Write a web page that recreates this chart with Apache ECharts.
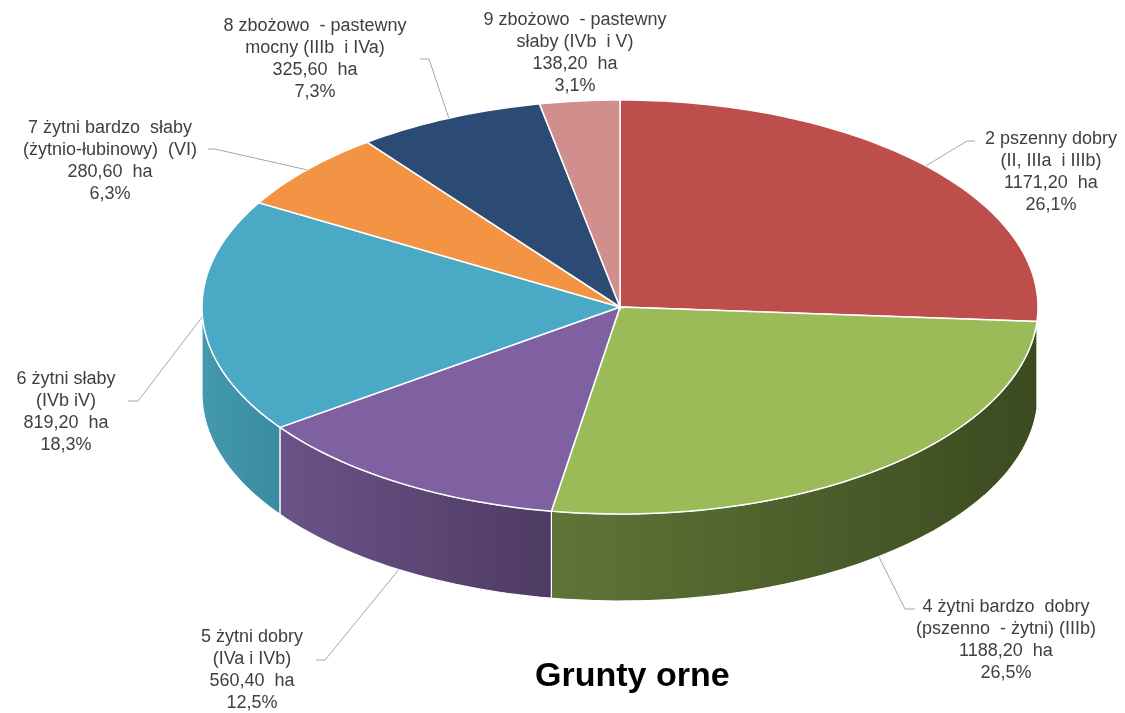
<!DOCTYPE html>
<html>
<head>
<meta charset="utf-8">
<title>Grunty orne</title>
<script src="https://cdn.jsdelivr.net/npm/echarts@6/dist/echarts.min.js"></script>
<style>
  html, body { margin: 0; padding: 0; background: #fff; }
  #chart { width: 1125px; height: 713px; }
</style>
</head>
<body>
<div id="chart"></div>
<script>
// klasy gruntów ornych, zgodnie z ruchem wskazówek zegara od godz. 12
const categories = [
  '2 pszenny dobry\n(II, IIIa  i IIIb)',
  '4 żytni bardzo  dobry\n(pszenno  - żytni) (IIIb)',
  '5 żytni dobry\n(IVa i IVb)',
  '6 żytni słaby\n(IVb iV)',
  '7 żytni bardzo  słaby\n(żytnio-łubinowy)  (VI)',
  '8 zbożowo  - pastewny\nmocny (IIIb  i IVa)',
  '9 zbożowo  - pastewny\nsłaby (IVb  i V)'
];
const areas = [1171.2, 1188.2, 560.4, 819.2, 280.6, 325.6, 138.2];
const chartTitle = 'Grunty orne';

const topColors = ['#BE4E4B', '#9BBB59', '#7F60A0', '#4AA9C4', '#F29444', '#2B4B74', '#D08E8C'];
const sideColors = [
  ['#8E3A38', '#8E3A38'],
  ['#5E7537', '#3C4A20'],
  ['#6B5388', '#4E3B63'],
  ['#4499AE', '#3A8B9F'],
  ['#B86E30', '#B86E30'],
  ['#1F3756', '#1F3756'],
  ['#9C6A69', '#9C6A69']
];

// położenie "3D" tortu i etykiet
const pie = { cx: 620, cy: 307, rx: 418, ry: 207, depth: 87 };
const labelLayout = [
  { x: 1051, y: 172, elbow: [967, 141], end: [975, 141] },
  { x: 1006, y: 640, elbow: [905, 609], end: [915, 609] },
  { x: 252, y: 670, elbow: [325, 660], end: [316, 660] },
  { x: 66, y: 412, elbow: [138, 401], end: [128, 401] },
  { x: 110, y: 161, elbow: [215, 149], end: [208, 149] },
  { x: 315, y: 59, elbow: [429, 59], end: [420, 59] },
  { x: 575, y: 53, elbow: null, end: null }
];

const total = areas.reduce((a, b) => a + b, 0);
const startAngles = [];
areas.reduce((acc, v) => { startAngles.push(acc); return acc + v / total * 360; }, 0);

function pt(deg, dy) {
  const r = deg * Math.PI / 180;
  return [pie.cx + pie.rx * Math.sin(r), pie.cy - pie.ry * Math.cos(r) + (dy || 0)];
}
function arc(a0, a1, dy) {
  const n = Math.max(2, Math.ceil((a1 - a0) / 1.5));
  const pts = [];
  for (let i = 0; i <= n; i++) pts.push(pt(a0 + (a1 - a0) * i / n, dy));
  return pts;
}
function fmt(v, d) {
  return v.toFixed(d).replace('.', ',');
}

function renderItem(params, api) {
  const i = params.dataIndex;
  const value = api.value(0);
  const a0 = startAngles[i];
  const a1 = a0 + value / total * 360;
  const children = [];

  // ściana boczna (tylko widoczna, przednia część)
  const s = Math.max(a0, 90), e = Math.min(a1, 270);
  if (s < e) {
    const top = arc(s, e, 0);
    const bottom = arc(s, e, pie.depth).reverse();
    children.push({
      type: 'polygon',
      z2: 1,
      shape: { points: top.concat(bottom) },
      style: {
        fill: new echarts.graphic.LinearGradient(0, 0, 1, 0, [
          { offset: 0, color: sideColors[i][0] },
          { offset: 1, color: sideColors[i][1] }
        ]),
        stroke: '#ffffff',
        lineWidth: 1.2
      }
    });
  }

  // górna powierzchnia wycinka
  children.push({
    type: 'polygon',
    z2: 10,
    shape: { points: [[pie.cx, pie.cy]].concat(arc(a0, a1, 0)) },
    style: { fill: topColors[i], stroke: '#ffffff', lineWidth: 1.5 }
  });

  // linia odniesienia
  const lay = labelLayout[i];
  if (lay.elbow) {
    const mid = (a0 + a1) / 2;
    const anchor = pt(mid, mid > 100 && mid < 260 ? pie.depth : 0);
    children.push({
      type: 'polyline',
      z2: 20,
      shape: { points: [anchor, lay.elbow, lay.end] },
      style: { stroke: '#A6A6A6', lineWidth: 1, fill: null }
    });
  }

  // etykieta
  const pct = fmt(value / total * 100, 1) + '%';
  children.push({
    type: 'text',
    z2: 20,
    style: {
      text: categories[i] + '\n' + fmt(value, 2) + '  ha\n' + pct,
      x: lay.x,
      y: lay.y,
      align: 'center',
      verticalAlign: 'middle',
      fill: '#404040',
      fontSize: 18,
      fontFamily: '"Liberation Sans", Arial, sans-serif',
      lineHeight: 22
    }
  });

  return { type: 'group', children };
}

const chart = echarts.init(document.getElementById('chart'));
chart.setOption({
  animation: false,
  backgroundColor: '#ffffff',
  graphic: [{
    type: 'text',
    left: 535,
    top: 660,
    style: {
      text: chartTitle,
      fill: '#000000',
      fontSize: 34,
      fontWeight: 'bold',
      fontFamily: '"Liberation Sans", Arial, sans-serif'
    }
  }],
  series: [{
    type: 'custom',
    coordinateSystem: 'none',
    silent: true,
    renderItem,
    data: areas.map(v => [v])
  }]
});
</script>
</body>
</html>
